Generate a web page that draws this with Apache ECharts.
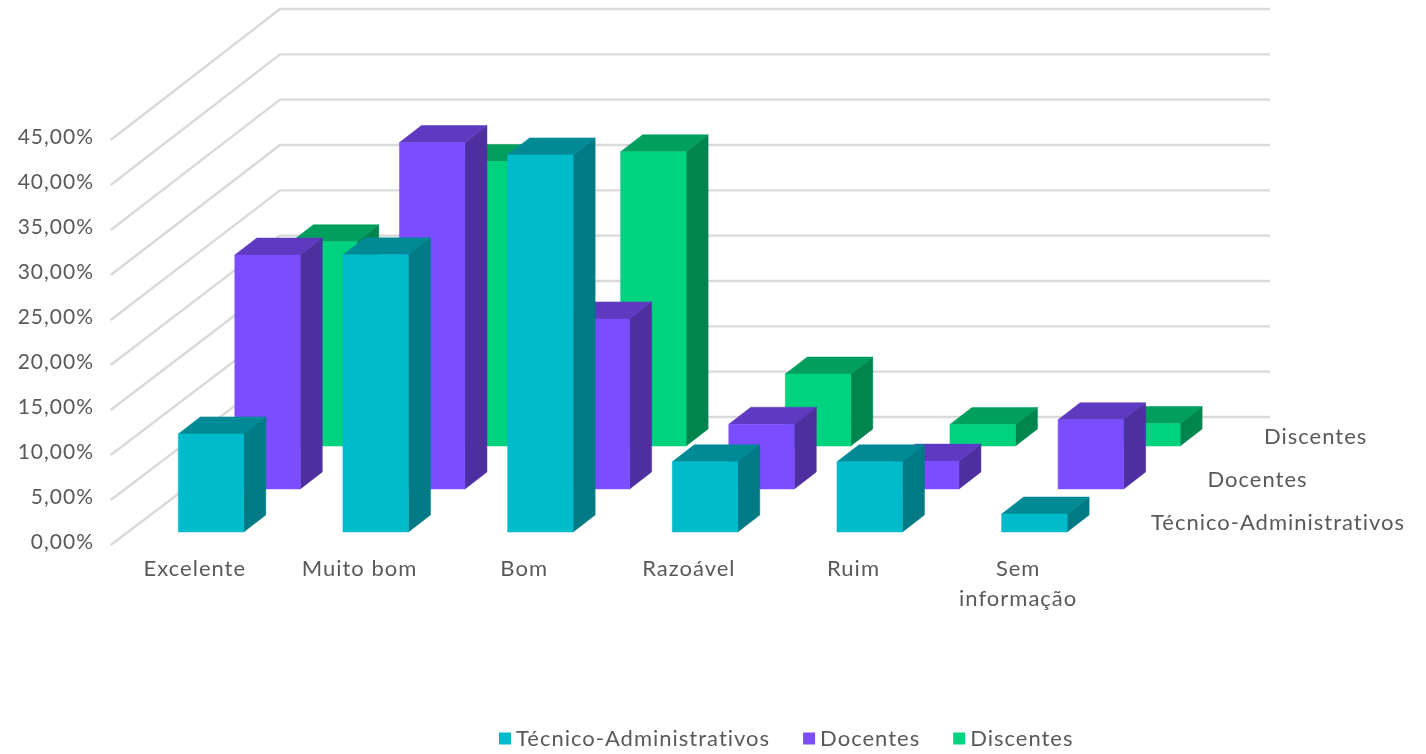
<!DOCTYPE html>
<html>
<head>
<meta charset="utf-8">
<style>html,body{margin:0;padding:0;background:#fff}#c{width:1426px;height:754px}</style>
<script src="https://cdn.jsdelivr.net/npm/echarts@6/dist/echarts.min.js"></script>
</head>
<body>
<div id="c"></div>
<script>
const categories = ['Excelente', 'Muito bom', 'Bom', 'Razoável', 'Ruim', 'Sem\ninformação'];
const tecnico = [10.9, 30.8, 41.9, 7.8, 7.8, 2.0];
const docentes = [26.0, 38.5, 18.9, 7.2, 3.1, 7.7];
const discentes = [22.7, 31.6, 32.7, 8.0, 2.4, 2.5];
const yTicks = [0, 5, 10, 15, 20, 25, 30, 35, 40, 45];
const seriesNames = ['Técnico-Administrativos', 'Docentes', 'Discentes'];

const textColor = '#595959';
const fontFamily = 'Lato';
const fontSize = 22;
const palette = [
  { front: '#00BBCC', top: '#008A96', side: '#007A85' },
  { front: '#7C4DFF', top: '#5E3AC0', side: '#4E2FA0' },
  { front: '#00D37F', top: '#009E5F', side: '#00854F' }
];
// projection of the depth axis
const rowDx = [18.7, 75.2, 131.7];
const rowDy = [13, 56, 99];
const barW = 65.5, capDx = 22, capDy = 17;

// the reference's text is set with slightly open tracking
const origGetContext = HTMLCanvasElement.prototype.getContext;
HTMLCanvasElement.prototype.getContext = function (...args) {
  const ctx = origGetContext.apply(this, args);
  if (ctx && 'letterSpacing' in ctx) ctx.letterSpacing = '1px';
  return ctx;
};

function barSeries(k, values) {
  const c = palette[k];
  return {
    name: seriesNames[k],
    type: 'custom',
    coordinateSystem: 'cartesian2d',
    z: 10 - k,
    itemStyle: { color: c.front },
    encode: { x: 0, y: 1 },
    data: values.map((v, i) => [i, v]),
    renderItem(params, api) {
      const top = api.coord([api.value(0), api.value(1)]);
      const base = api.coord([api.value(0), 0]);
      const x0 = top[0] + rowDx[k] - barW / 2, x1 = x0 + barW;
      const yT = top[1] - rowDy[k], yB = base[1] - rowDy[k];
      const poly = (pts, fill) => ({ type: 'polygon', shape: { points: pts }, style: { fill, stroke: fill, lineWidth: 0.5 } });
      return {
        type: 'group',
        children: [
          poly([[x1, yT], [x1 + capDx, yT - capDy], [x1 + capDx, yB - capDy], [x1, yB]], c.side),
          poly([[x0, yT], [x0 + capDx, yT - capDy], [x1 + capDx, yT - capDy], [x1, yT]], c.top),
          poly([[x0, yT], [x1, yT], [x1, yB], [x0, yB]], c.front)
        ]
      };
    }
  };
}

const wallSeries = {
  type: 'custom',
  coordinateSystem: 'cartesian2d',
  silent: true,
  z: 1,
  encode: { y: 0 },
  data: yTicks.map(v => [v]),
  renderItem(params, api) {
    const v = api.value(0);
    const p = api.coord([0, v]);
    const x0 = params.coordSys.x, x1 = x0 + params.coordSys.width;
    const yBack = p[1] - 128 - v * 0.0667;
    return {
      type: 'polyline',
      shape: { points: [[x0 + 0.7, p[1]], [x0 + 170, yBack], [x1 + 172, yBack]] },
      style: { fill: 'none', stroke: '#D9D9D9', lineWidth: 2.4 }
    };
  }
};

const depthLabelSeries = {
  type: 'custom',
  coordinateSystem: 'cartesian2d',
  silent: true,
  z: 20,
  data: seriesNames.map((n, k) => [k]),
  renderItem(params, api) {
    const k = api.value(0);
    const p = api.coord([categories.length - 1, 0]);
    return {
      type: 'text',
      style: {
        x: p[0] + rowDx[k] + 116.6,
        y: p[1] - rowDy[k] - 9,
        text: seriesNames[k],
        fill: textColor,
        font: fontSize + 'px ' + fontFamily,
        align: 'left',
        verticalAlign: 'middle'
      }
    };
  }
};

const chart = echarts.init(document.getElementById('c'));
chart.setOption({
  animation: false,
  backgroundColor: '#fff',
  textStyle: { fontFamily },
  grid: { left: 110, top: 140, width: 988, height: 405, containLabel: false },
  xAxis: {
    type: 'category',
    data: categories,
    axisLine: { show: false },
    axisTick: { show: false },
    splitLine: { show: false },
    axisLabel: {
      interval: 0,
      margin: 9,
      color: textColor,
      fontFamily,
      fontSize,
      lineHeight: 30,
      padding: [0, 0, 0, 5]
    }
  },
  yAxis: {
    type: 'value',
    min: 0,
    max: 45,
    interval: 5,
    axisLine: { show: false },
    axisTick: { show: false },
    splitLine: { show: false },
    axisLabel: {
      margin: 16,
      color: textColor,
      fontFamily,
      fontSize: 21,
      verticalAlign: 'bottom',
      lineHeight: 5,
      formatter: v => v.toFixed(2).replace('.', ',') + '%'
    }
  },
  legend: {
    data: seriesNames,
    left: 494,
    top: 722,
    icon: 'rect',
    itemWidth: 12,
    itemHeight: 12,
    itemGap: 33,
    selectedMode: false,
    textStyle: { color: textColor, fontFamily, fontSize }
  },
  series: [
    wallSeries,
    barSeries(2, discentes),
    barSeries(1, docentes),
    barSeries(0, tecnico),
    depthLabelSeries
  ]
});
</script>
</body>
</html>
